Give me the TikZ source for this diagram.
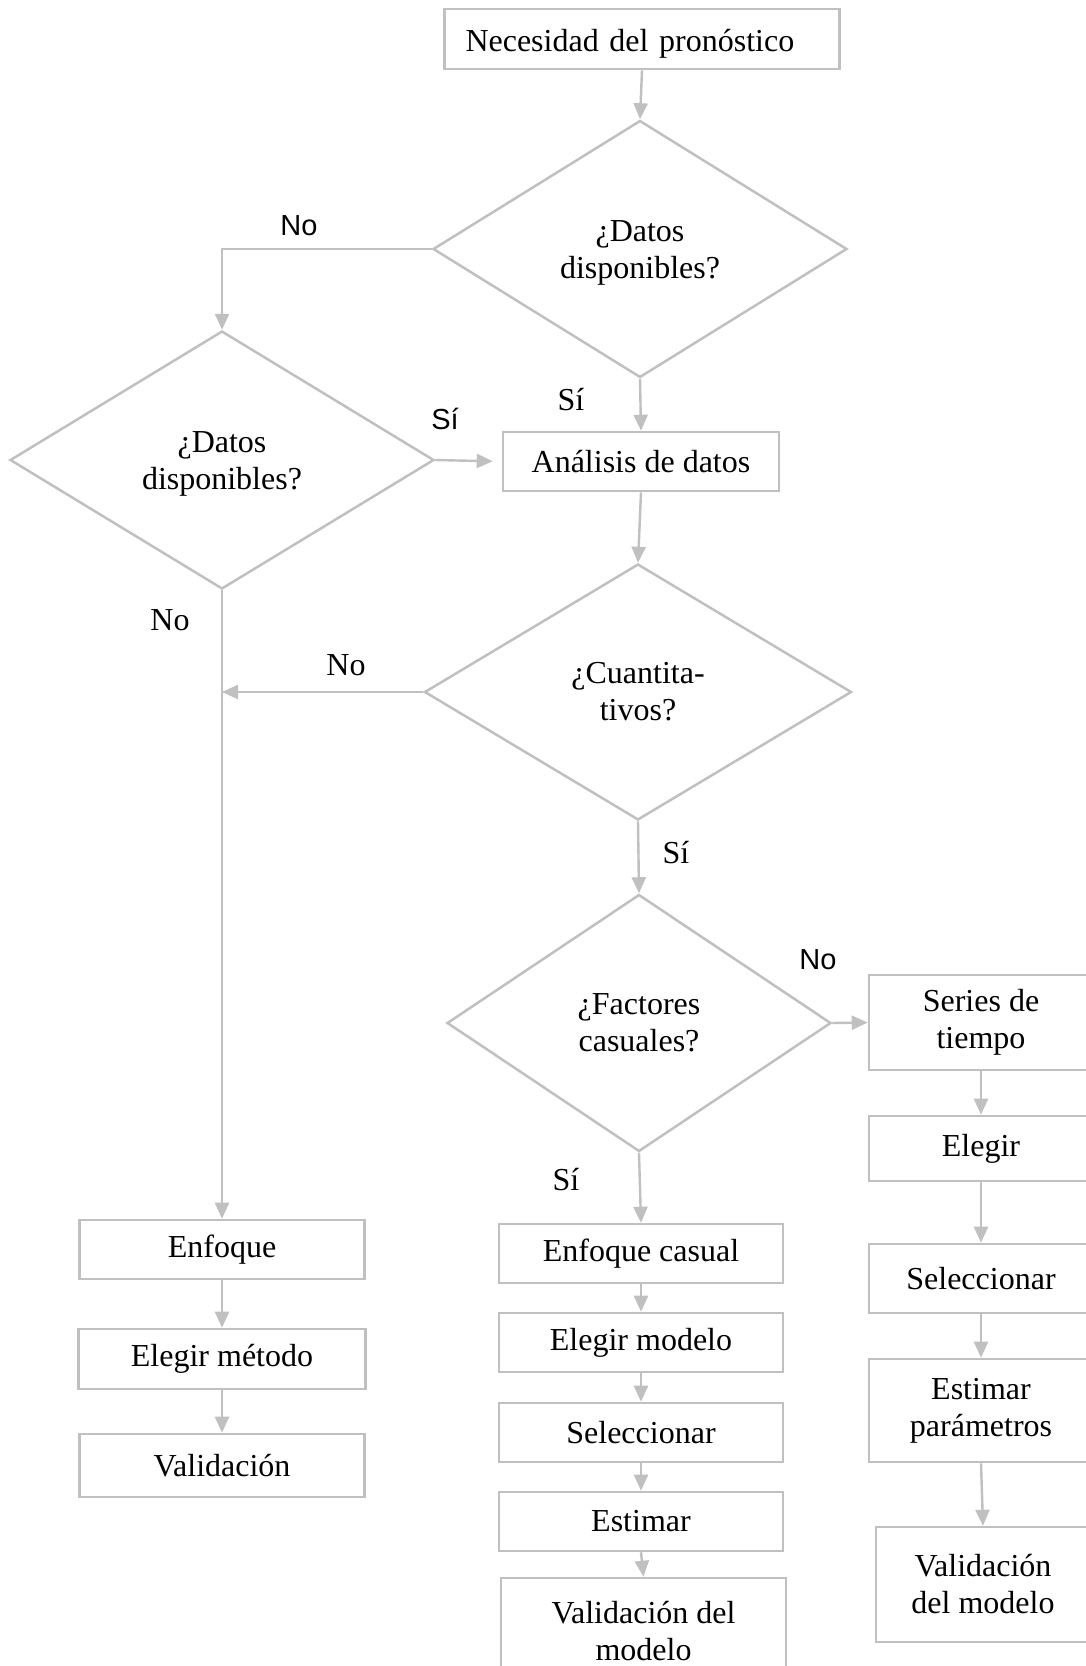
\documentclass[tikz,border=0pt]{standalone}
\usepackage{fontspec}
\setmainfont{Liberation Serif}
\newfontfamily\labelsans{Liberation Sans}
\usetikzlibrary{shapes.geometric,arrows.meta}
\definecolor{linegray}{RGB}{192,192,192}
\begin{document}
\begin{tikzpicture}[x=1pt,y=-1pt,
  every node/.style={font=\fontsize{32}{37}\selectfont, inner sep=0pt},
  box/.style={draw=linegray, line width=2.6pt, rectangle, align=center},
  decision/.style={draw=linegray, line width=2.5pt, diamond, align=center, aspect=1},
  flow/.style={draw=linegray, line width=2.4pt, -{Triangle[length=16pt,width=14pt]}},
  lowtext/.style={text height=66pt},
  lbl/.style={font=\fontsize{32}{37}\selectfont},
  lblsans/.style={font=\labelsans\fontsize{29}{34}\selectfont}]
\useasboundingbox (0,0) rectangle (1086,1666);
\clip (0,0) rectangle (1086,1666);
\fill[white] (0,0) rectangle (1086,1666);

% top box and the decisions of the main column
\node[box, text height=31pt, text depth=7pt, minimum width=395pt, minimum height=60pt, text width=353pt, inner xsep=21pt, align=left] (need) at (642,39) {Necesidad del pronóstico};
\node[decision, lowtext, minimum width=414pt, minimum height=257pt] (d1) at (640,249) {¿Datos\\disponibles?};
\node[decision, lowtext, minimum width=424pt, minimum height=258pt] (d2) at (222,460) {¿Datos\\disponibles?};
\node[box, minimum width=276pt, minimum height=59pt] (ana) at (641,461.5) {Análisis de datos};
\node[decision, minimum width=427pt, minimum height=256pt] (d3) at (638,692) {¿Cuantita-\\tivos?};
\node[decision, minimum width=384pt, minimum height=257pt] (d4) at (639,1023) {¿Factores\\casuales?};

% left column
\node[box, minimum width=285pt, minimum height=59pt] (enf) at (222,1249.5) {Enfoque};
\node[box, minimum width=287pt, minimum height=60pt] (elm) at (222,1359) {Elegir método};
\node[box, minimum width=285pt, minimum height=63pt] (val) at (222,1465.5) {Validación};

% middle column
\node[box, minimum width=284pt, minimum height=59pt] (ecas) at (641,1253.5) {Enfoque casual};
\node[box, minimum width=284pt, minimum height=59pt] (emod) at (641,1342.5) {Elegir modelo};
\node[box, minimum width=284pt, minimum height=59pt] (selm) at (641,1432.5) {Seleccionar};
\node[box, minimum width=284pt, minimum height=59pt] (estm) at (641,1521.5) {Estimar};
\node[box, minimum width=285pt, minimum height=107pt] (valm) at (643.5,1631.5) {Validación del\\modelo};

% right column
\node[box, minimum width=224pt, minimum height=95pt] (ser) at (981,1022.5) {Series de\\tiempo};
\node[box, minimum width=224pt, minimum height=65pt] (elr) at (981,1148.5) {Elegir};
\node[box, minimum width=224pt, minimum height=69pt] (selr) at (981,1278.5) {Seleccionar};
\node[box, minimum width=224pt, minimum height=103pt] (estr) at (981,1410.5) {Estimar\\parámetros};
\node[box, minimum width=214pt, minimum height=115pt] (valr) at (983,1584.5) {Validación\\del modelo};

% branch labels
\node[lblsans] (l1) at (299,226) {No};
\node[lbl] (l2) at (571,400) {Sí};
\node[lblsans] (l3) at (445,419) {Sí};
\node[lbl] (l4) at (170,620) {No};
\node[lbl] (l5) at (346,665) {No};
\node[lbl] (l6) at (676,853) {Sí};
\node[lblsans] (l7) at (818,960) {No};
\node[lbl] (l8) at (566,1180) {Sí};

% connectors
\coordinate (join) at (d2.north |- d3.west);
\draw[flow] (need.south) -- (d1.north);
\draw[flow] (d1.west) -| (d2.north);
\draw[flow] (d1.south) -- (ana.north);
\draw[flow, shorten >=9pt] (d2.east) -- (ana.west);
\draw[flow] (ana.south) -- (d3.north);
\draw[flow] (d3.west) -- (join);
\draw[flow] (d2.south) -- (enf.north);
\draw[flow] (d3.south) -- (d4.north);
\draw[flow] (d4.east) -- (ser.west);
\draw[flow] (d4.south) -- (ecas.north);
\draw[flow] (enf.south) -- (elm.north);
\draw[flow] (elm.south) -- (val.north);
\draw[flow] (ecas.south) -- (emod.north);
\draw[flow] (emod.south) -- (selm.north);
\draw[flow] (selm.south) -- (estm.north);
\draw[flow] (estm.south) -- (valm.north);
\draw[flow] (ser.south) -- (elr.north);
\draw[flow] (elr.south) -- (selr.north);
\draw[flow] (selr.south) -- (estr.north);
\draw[flow] (estr.south) -- (valr.north);
\end{tikzpicture}
\end{document}
